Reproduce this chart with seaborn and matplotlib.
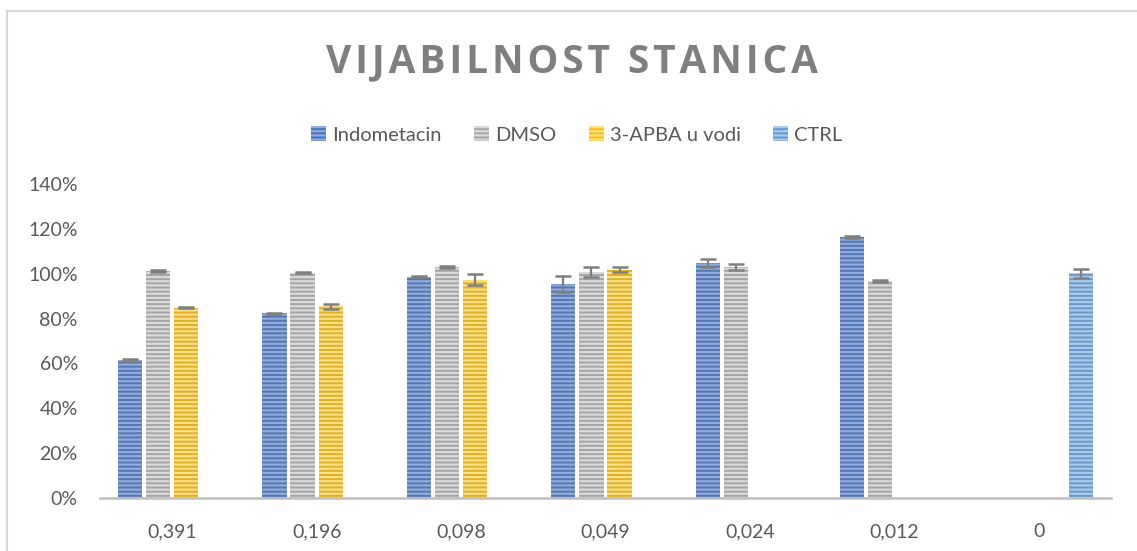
import numpy as np
import pandas as pd
import matplotlib
matplotlib.use("Agg")
import matplotlib.pyplot as plt
import seaborn as sns
from matplotlib.ticker import PercentFormatter
from matplotlib.patches import Rectangle

nan = np.nan
categories = ["0,391", "0,196", "0,098", "0,049", "0,024", "0,012", "0"]
groups = ["Indometacin", "DMSO", "3-APBA u vodi", "CTRL"]

indometacin = [61.5, 82.4, 98.6, 95.6, 104.8, 116.4, nan]
dmso = [101.2, 100.5, 103.0, 100.8, 103.0, 96.8, nan]
apba = [84.8, 85.5, 97.4, 101.7, nan, nan, nan]
ctrl = [nan, nan, nan, nan, nan, nan, 100.1]

indometacin_err = [0.3, 0.3, 0.2, 3.6, 1.6, 0.3, nan]
dmso_err = [0.3, 0.3, 0.3, 2.3, 1.5, 0.3, nan]
apba_err = [0.3, 1.2, 2.3, 1.1, nan, nan, nan]
ctrl_err = [nan, nan, nan, nan, nan, nan, 2.2]

title = "VIJABILNOST STANICA"

values = {"Indometacin": indometacin, "DMSO": dmso, "3-APBA u vodi": apba, "CTRL": ctrl}
errors = {"Indometacin": indometacin_err, "DMSO": dmso_err, "3-APBA u vodi": apba_err, "CTRL": ctrl_err}

colors = {"Indometacin": "#4472C4", "DMSO": "#A5A5A5", "3-APBA u vodi": "#FFC000", "CTRL": "#5B9BD5"}
stripe = {"Indometacin": "#8FAADC", "DMSO": "#D9D9D9", "3-APBA u vodi": "#FFE08A", "CTRL": "#A9CBEB"}

rows = []
for g in groups:
    for c, v in zip(categories, values[g]):
        if not np.isnan(v):
            rows.append({"conc": c, "val": v / 100.0, "group": g})
df = pd.DataFrame(rows)

sns.set_theme(style="white")
plt.rcParams["font.family"] = ["Lato", "DejaVu Sans"]
plt.rcParams["hatch.linewidth"] = 1.6

fig = plt.figure(figsize=(11.37, 5.51), dpi=100)
W, H = 1137, 551
ax = fig.add_axes([100 / W, 53 / H, 1011 / W, 314 / H])

sns.barplot(data=df, x="conc", y="val", hue="group", order=categories,
            hue_order=groups, palette=colors, width=0.78, gap=0.14,
            errorbar=None, ax=ax, legend=False)

for cont, g in zip(ax.containers, groups):
    for bar in cont:
        bar.set_hatch("----")
        bar.set_edgecolor(stripe[g])
        bar.set_linewidth(0)
        x = bar.get_x() + bar.get_width() / 2
        h = bar.get_height()
        ci = int(round(x))
        e = errors[g][ci]
        if not np.isnan(e) and not np.isnan(h):
            ax.errorbar(x, h, yerr=e / 100.0, color="#7F7F7F", capsize=6,
                        elinewidth=1.6, capthick=1.8, fmt="none", zorder=5)

ax.set_ylim(0, 1.4)
ax.set_xlim(-0.5, len(categories) - 0.5)
ax.set_yticks(np.arange(0, 1.41, 0.2))
ax.yaxis.set_major_formatter(PercentFormatter(1.0, decimals=0))
ax.set_xlabel("")
ax.set_ylabel("")
for s in ["left", "right", "top"]:
    ax.spines[s].set_visible(False)
ax.spines["bottom"].set_color("#BFBFBF")
ax.spines["bottom"].set_linewidth(1.8)
ax.tick_params(axis="both", length=0, labelsize=14, colors="#595959")
ax.tick_params(axis="y", pad=16)
ax.tick_params(axis="x", pad=18)

# legend
handles = []
for g in groups:
    p = Rectangle((0, 0), 1, 1, facecolor=colors[g], edgecolor=stripe[g],
                  hatch="----", linewidth=0)
    handles.append(p)
fig.legend(handles, groups, loc="center", bbox_to_anchor=(577 / W, 1 - 135 / H),
           ncol=4, frameon=False, fontsize=14.5, handlelength=0.75, handleheight=0.75,
           handletextpad=0.3, columnspacing=1.6, labelcolor="#595959")

spaced_title = "\u200a".join(title)
fig.text(572 / W, 1 - 62 / H, spaced_title, ha="center", va="center",
         fontsize=28, fontweight="bold", color="#7F7F7F",
         family=["Open Sans", "DejaVu Sans"])

fig.patches.append(Rectangle((6.5 / W, -0.1), 1.2, 1 - 10.5 / H + 0.1,
                             transform=fig.transFigure, fill=False,
                             edgecolor="#D9D9D9", linewidth=1.5))

fig.savefig("out.png", dpi=100)
